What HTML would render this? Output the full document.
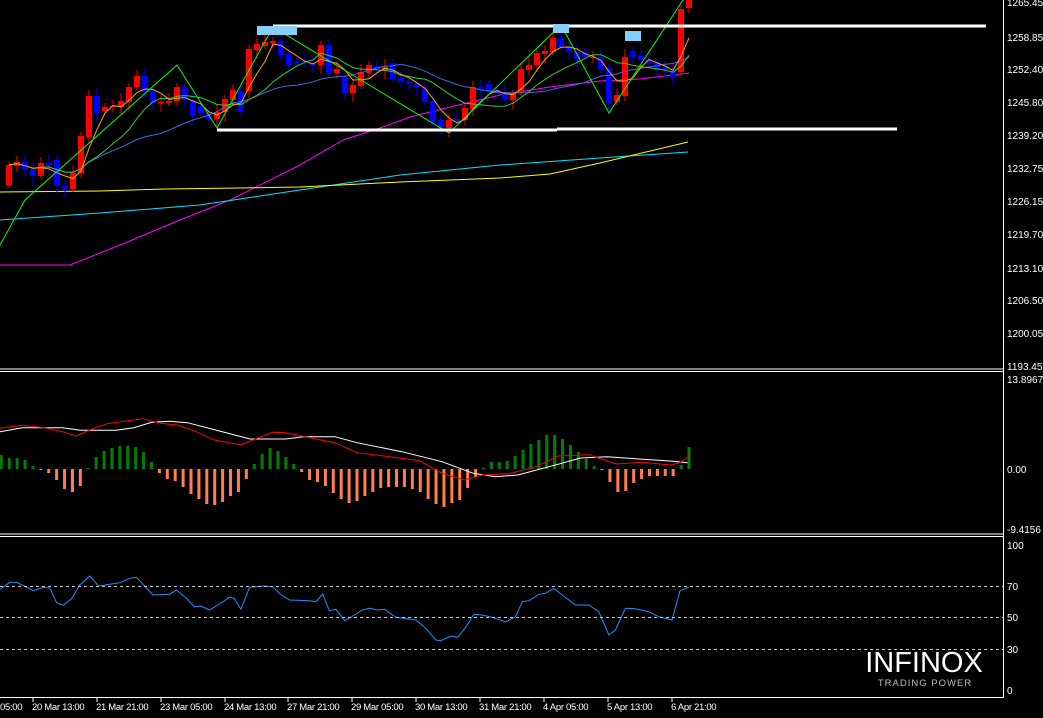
<!DOCTYPE html>
<html><head><meta charset="utf-8"><style>
html,body{margin:0;padding:0;background:#000;width:1043px;height:718px;overflow:hidden}
svg{display:block}
text{font-family:"Liberation Sans",sans-serif;font-size:10px;fill:#fff}
</style></head><body>
<svg id="s" width="1043" height="718" viewBox="0 0 1043 718" xmlns="http://www.w3.org/2000/svg">
<rect width="1043" height="718" fill="#000"/>
<g id="g"></g>
<line x1="0" y1="369" x2="1003" y2="369" stroke="#fff" stroke-width="1"/>
<line x1="0" y1="371.5" x2="1003" y2="371.5" stroke="#fff" stroke-width="1"/>
<line x1="0" y1="534" x2="1003" y2="534" stroke="#fff" stroke-width="1"/>
<line x1="0" y1="536.5" x2="1003" y2="536.5" stroke="#fff" stroke-width="1"/>
<line x1="1003.5" y1="0" x2="1003.5" y2="698" stroke="#fff" stroke-width="1"/>
<line x1="0" y1="697.5" x2="1004" y2="697.5" stroke="#fff" stroke-width="1"/>
<g stroke="#ccc" stroke-width="1" stroke-dasharray="3,3">
<line x1="0" y1="586.5" x2="1003" y2="586.5"/>
<line x1="0" y1="617.5" x2="1003" y2="617.5"/>
<line x1="0" y1="649.5" x2="1003" y2="649.5"/>
</g>
<g>
<text x="1007" y="6">1265.45</text>
<text x="1007" y="41">1258.85</text>
<text x="1007" y="73">1252.40</text>
<text x="1007" y="106">1245.80</text>
<text x="1007" y="139">1239.20</text>
<text x="1007" y="172">1232.75</text>
<text x="1007" y="205">1226.15</text>
<text x="1007" y="238">1219.70</text>
<text x="1007" y="272">1213.10</text>
<text x="1007" y="304">1206.50</text>
<text x="1007" y="337">1200.05</text>
<text x="1007" y="370">1193.45</text>
<text x="1007" y="383">13.8967</text>
<text x="1007" y="473">0.00</text>
<text x="1007" y="533">-9.4156</text>
<text x="1007" y="549">100</text>
<text x="1007" y="590">70</text>
<text x="1007" y="621">50</text>
<text x="1007" y="653">30</text>
<text x="1007" y="694">0</text>
</g>
<g id="xl"></g>
<text x="924" y="672" text-anchor="middle" style="font-size:29px;fill:#fff;letter-spacing:0px">INFINOX</text>
<text x="925" y="686" text-anchor="middle" style="font-size:9.5px;fill:#bbb;letter-spacing:1px">TRADING POWER</text>
</svg>
<script>
var NS="http://www.w3.org/2000/svg",g=document.getElementById('g');
function el(t,a,p){var e=document.createElementNS(NS,t);for(var k in a)e.setAttribute(k,a[k]);(p||g).appendChild(e);return e;}
function pl(pts,c,w){el('polyline',{points:pts.map(function(p){return p[0]+','+p[1]}).join(' '),fill:'none',stroke:c,'stroke-width':w||1});}
pl([[0,265],[70,265],[120,245],[180,220],[230,200],[300,165],[343,140],[380,128],[410,117],[450,107],[500,95],[550,87],[600,81],[640,79],[689,73]],'#ff00ff');
pl([[0,220],[100,213],[200,205],[300,190],[400,175],[500,165],[600,158],[688,152]],'#00e5ff');
pl([[0,192],[100,191],[165,189],[240,188],[300,187],[400,182],[500,178],[550,174],[600,163],[688,142]],'#ffff00');
var C=[[165,185,1],[162,166,1],[162,170,0],[169,176,0],[163,176,1],[163,166,0],[160,186,0],[186,189,0],[173,189,1],[136,173,1],
[96,137,1],[96,113,0],[107,111,1],[106,107,1],[101,107,1],[87,102,1],[76,87,1],[76,92,0],[92,103,0],[102,103,1],
[101,103,1],[87,101,1],[87,100,0],[100,116,0],[106,113,0],[113,119,0],[112,119,1],[99,112,1],[90,100,1],[91,111,0],
[49,91,1],[44,50,1],[42,46,1],[41,43,1],[41,55,0],[54,65,0],[62,63,0],[60,62,0],[63,66,0],[45,65,1],[45,73,0],
[69,73,1],[77,93,0],[85,93,1],[72,86,1],[65,73,1],[66,69,0],[67,70,1],[63,79,0],[78,82,0],[81,83,0],
[83,87,0],[87,102,0],[101,122,0],[120,128,0],[120,128,1],[119,121,0],[108,120,1],[87,109,1],[87,90,0],[84,92,0],
[90,93,0],[93,100,0],[93,100,1],[69,93,1],[65,70,1],[53,65,1],[51,54,1],[38,52,1],[38,47,0],[47,52,0],
[52,59,0],[52,57,0],[57,58,1],[57,69,0],[68,103,0],[95,102,1],[57,96,1],[51,57,0],[56,60,0],[60,64,0],
[62,70,0],[67,70,0],[71,77,0],[9,72,1],[-5,8,1]];
var closes=[];
C.forEach(function(c,i){var x=9+8*i,col=c[2]?'#ff0000':'#0000ff';
 el('line',{x1:x,y1:c[0]-4-(i%3)*2,x2:x,y2:c[1]+3+(i%4)*2,stroke:col,'stroke-width':1});
 el('rect',{x:x-3,y:c[0],width:6,height:Math.max(1,c[1]-c[0]),fill:col});
 closes.push(c[2]?c[0]:c[1]);});
function sma(n){var r=[];for(var i=0;i<closes.length;i++){var s=0,k=0;for(var j=Math.max(0,i-n+1);j<=i;j++){s+=closes[j];k++;}r.push([9+8*i,(s/k).toFixed(1)]);}return r;}
pl(sma(20),'#4169e1');pl(sma(10),'#32cd32');pl(sma(4),'#ffa500');
pl([[0,245],[25,200],[177,65],[217,128],[273,27],[449,133],[561,25],[609,113],[683,0]],'#00ff00');
el('rect',{x:273,y:24.5,width:713,height:3,fill:'#fff'});
el('rect',{x:217,y:128.5,width:340,height:3,fill:'#fff'});
el('rect',{x:557,y:127.5,width:340,height:3,fill:'#fff'});
el('rect',{x:257,y:26,width:40,height:9,fill:'#87cefa'});
el('rect',{x:553,y:24,width:16,height:9,fill:'#87cefa'});
el('rect',{x:625,y:31,width:16,height:10,fill:'#87cefa'});
var H=[14,11,11,9,3,-1,-4,-11,-20,-23,-17,1,12,18,21,23,23,22,17,7,-4,-10,-12,-18,-25,-30,-35,-36,-33,-27,-23,-10,5,15,21,18,12,5,-3,-11,-13,-17,-24,-30,-34,-32,-27,-23,-19,-18,-18,-18,-20,-23,-30,-35,-38,-34,-31,-19,-8,1,7,7,8,13,19,25,29,34,34,30,24,17,10,3,-1,-13,-23,-22,-14,-10,-7,-7,-7,-7,4,22];
var step=(689-1.3)/(H.length-1);
H.forEach(function(v,i){var x=1.3+step*i;
 el('rect',{x:x-1.5,y:v>0?469-v:469,width:3,height:Math.abs(v)||1,fill:v>0?'#008000':'#ff7f50'});});
function cv(a,sx,oy){return a.map(function(p){return [(p[0]/sx).toFixed(1),(p[1]/3+oy).toFixed(1)]});}
pl(cv([[0,185],[50,173],[140,173],[180,181],[260,181],[300,173],[340,157],[380,154],[420,158],[500,186],[560,207],[640,207],[680,200],[750,200],[800,218],[900,245],[990,275],[1060,310],[1110,320],[1160,315],[1250,283],[1300,264],[1360,260],[1440,268],[1500,273],[1540,278]],2.24,370),'#fff');
pl(cv([[0,175],[50,166],[100,173],[140,185],[170,198],[210,175],[240,161],[320,146],[360,160],[400,166],[440,185],[480,210],[540,224],[610,187],[640,188],[700,205],[750,218],[800,248],[860,258],[940,272],[990,310],[1040,330],[1080,315],[1140,311],[1200,290],[1250,258],[1320,254],[1380,282],[1440,277],[1500,285],[1520,280],[1545,258]],2.24,370),'#ff0000');
pl(cv([[0,178],[15,157],[25,157],[50,182],[65,172],[75,175],[85,218],[95,226],[108,205],[120,165],[135,138],[148,168],[165,163],[180,158],[195,145],[205,142],[230,195],[255,193],[265,180],[280,205],[292,230],[302,228],[315,240],[330,222],[345,202],[352,205],[362,238],[375,172],[395,168],[410,170],[420,190],[435,210],[465,212],[475,215],[485,192],[495,242],[505,238],[518,272],[530,258],[545,240],[555,235],[568,240],[578,238],[595,262],[625,270],[640,295],[655,330],[662,332],[678,318],[688,322],[700,292],[712,253],[725,255],[740,262],[760,276],[775,260],[785,215],[795,212],[810,193],[820,190],[832,175],[845,195],[865,225],[885,225],[900,245],[915,315],[925,300],[940,235],[955,236],[975,245],[990,260],[1010,270],[1022,182],[1035,172]],1.503,530),'#1e90ff');
var xl=document.getElementById('xl'),L=[[0,'05:00'],[32,'20 Mar 13:00'],[96,'21 Mar 21:00'],[160,'23 Mar 05:00'],[224,'24 Mar 13:00'],[287,'27 Mar 21:00'],[351,'29 Mar 05:00'],[415,'30 Mar 13:00'],[479,'31 Mar 21:00'],[543,'4 Apr 05:00'],[607,'5 Apr 13:00'],[671,'6 Apr 21:00']];
L.forEach(function(l,i){var t=el('text',{x:l[0],y:710,style:'font-size:9.5px;letter-spacing:-0.3px'},xl);t.textContent=l[1];
 if(i>0)el('line',{x1:l[0]+1,y1:698,x2:l[0]+1,y2:702,stroke:'#fff'},xl);});
</script>
</body></html>
